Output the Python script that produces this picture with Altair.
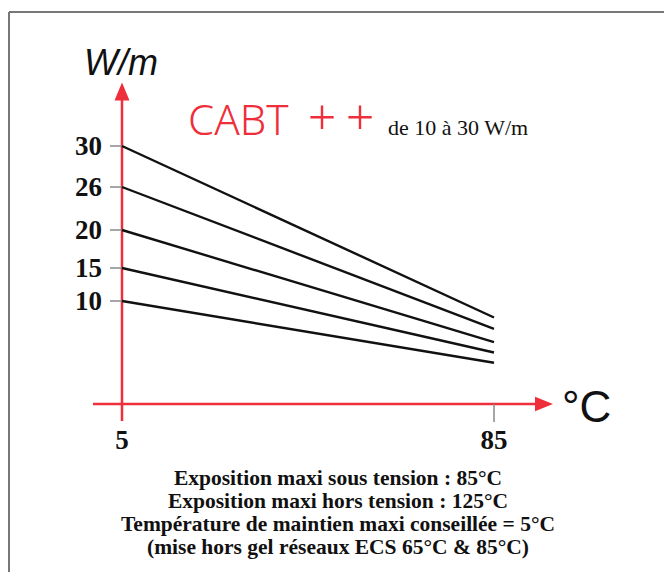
import altair as alt
import pandas as pd

# ---- data ----
series_names = ["30 W/m", "26 W/m", "20 W/m", "15 W/m", "10 W/m"]
temps = [5, 85]
power_at_5 = [30, 26, 20, 15, 10]
power_at_85 = [8.4, 7.3, 6.0, 5.0, 4.0]
y_ticks = [10, 15, 20, 26, 30]
x_ticks = [5, 85]
notes = [
    "Exposition maxi sous tension : 85°C",
    "Exposition maxi hors tension : 125°C",
    "Température de maintien maxi conseillée = 5°C",
    "(mise hors gel réseaux ECS 65°C & 85°C)",
]

RED = "#ee2e3a"
SERIF = "Liberation Serif"

rows = []
for name, a, b in zip(series_names, power_at_5, power_at_85):
    rows.append({"serie": name, "t": temps[0], "p": a})
    rows.append({"serie": name, "t": temps[1], "p": b})
lines_df = pd.DataFrame(rows)

xs = alt.Scale(domain=[5, 85], range=[114, 486], zero=False, nice=False)
# schematic (non-linear) power axis as drawn in the original
ys = alt.Scale(domain=[0, 10, 15, 20, 26, 30], range=[396, 293, 260, 222, 179, 138],
               zero=False, nice=False)

X = lambda f: alt.X(f, type="quantitative", scale=xs, axis=None)
Y = lambda f: alt.Y(f, type="quantitative", scale=ys, axis=None)

one = pd.DataFrame({"k": [0]})

# border
border_top = alt.Chart(one).mark_rule(color="#777", strokeWidth=2).encode(
    x=alt.value(1), x2=alt.value(700), y=alt.value(4))
border_left = alt.Chart(one).mark_rule(color="#777", strokeWidth=2).encode(
    x=alt.value(1), y=alt.value(4), y2=alt.value(600))

# red axes
yaxis = alt.Chart(one).mark_rule(color=RED, strokeWidth=2.5).encode(
    x=alt.value(114), y=alt.value(90), y2=alt.value(413))
xaxis = alt.Chart(one).mark_rule(color=RED, strokeWidth=2.5).encode(
    x=alt.value(85), x2=alt.value(532), y=alt.value(396))
yarrow = alt.Chart(one).mark_point(shape="M0,-1L0.83,1L-0.83,1Z", filled=True, color=RED,
                                   opacity=1, size=324).encode(
    x=alt.value(114), y=alt.value(83.5))
xarrow = alt.Chart(one).mark_point(shape="M1,0L-1,0.8L-1,-0.8Z", filled=True, color=RED,
                                   opacity=1, size=324).encode(
    x=alt.value(536), y=alt.value(396))

# grey ticks
yt_df = pd.DataFrame({"v": y_ticks})
ytick = alt.Chart(yt_df).mark_rule(color="#888", strokeWidth=1.5).encode(
    y=Y("v"), x=alt.value(102), x2=alt.value(114))
ylab = alt.Chart(yt_df).mark_text(font=SERIF, fontWeight="bold", fontSize=27, align="right",
                                  baseline="middle", color="#111", dy=1).encode(
    y=Y("v"), x=alt.value(94), text=alt.Text("v:Q"))

xt_df = pd.DataFrame({"t": x_ticks})
xtick = alt.Chart(xt_df[xt_df.t == 85]).mark_rule(color="#888", strokeWidth=1.5).encode(
    x=X("t"), y=alt.value(396), y2=alt.value(414))
xlab = alt.Chart(xt_df).mark_text(font=SERIF, fontWeight="bold", fontSize=27, align="center",
                                  baseline="middle", color="#111").encode(
    x=X("t"), y=alt.value(433), text=alt.Text("t:Q"))

lines = alt.Chart(lines_df).mark_line(color="#111", strokeWidth=2.4).encode(
    x=X("t"), y=Y("p"), detail="serie:N")

# texts
wm = alt.Chart(one).mark_text(text="W/m", font="Liberation Sans", fontStyle="italic",
                              fontSize=36, align="left", baseline="alphabetic",
                              color="#111").encode(x=alt.value(76), y=alt.value(67))
degc = alt.Chart(one).mark_text(text="°C", font="Liberation Sans", fontSize=44,
                                align="left", baseline="alphabetic",
                                color="#111").encode(x=alt.value(554), y=alt.value(414))
cabt = alt.Chart(one).mark_text(text="CABT", font="Noto Sans", fontSize=42, fontWeight=300,
                                align="left", baseline="alphabetic",
                                color=RED).encode(x=alt.value(180), y=alt.value(127))
plus_df = pd.DataFrame({"px": [314, 352]})
pluses = alt.Chart(plus_df).mark_text(text="+", font="Noto Sans", fontSize=50, fontWeight=300,
                                      align="center", baseline="alphabetic",
                                      color=RED).encode(
    x=alt.X("px:Q", scale=alt.Scale(domain=[0, 656], range=[0, 656]), axis=None),
    y=alt.value(127))
sub = alt.Chart(one).mark_text(text="de 10 à 30 W/m", font=SERIF, fontSize=22,
                               align="left", baseline="alphabetic",
                               color="#111").encode(x=alt.value(380), y=alt.value(127))

notes_df = pd.DataFrame({"txt": notes, "i": list(range(len(notes)))})
note_marks = alt.Chart(notes_df).mark_text(font=SERIF, fontWeight="bold", fontSize=21.5,
                                           align="center", baseline="alphabetic",
                                           color="#111").encode(
    x=alt.value(330),
    y=alt.Y("i:Q", scale=alt.Scale(domain=[0, 3], range=[477, 546], zero=False, nice=False),
            axis=None),
    text="txt:N")

chart = alt.layer(
    border_top, border_left, yaxis, xaxis, yarrow, xarrow, ytick, xtick, lines,
    ylab, xlab, wm, degc, cabt, sub, note_marks
).resolve_scale(y="independent")
chart = alt.layer(chart, pluses).resolve_scale(x="independent", y="independent").properties(
    width=656, height=564, padding=0, autosize=alt.AutoSizeParams(type="none")
).configure_view(stroke=None)

chart.save("out.html", embed_options={"renderer": "svg", "actions": False})
